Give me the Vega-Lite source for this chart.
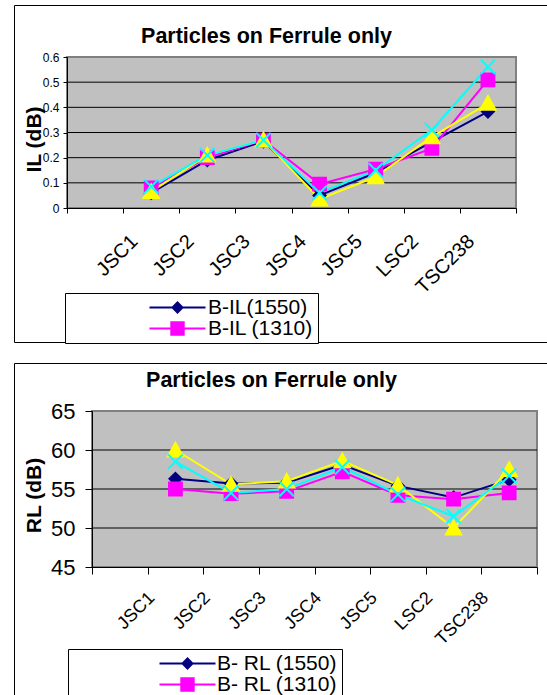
{
  "$schema": "https://vega.github.io/schema/vega-lite/v6.json",
  "background": "white",
  "padding": {"left": 6, "top": 4, "right": 0, "bottom": 0},
  "spacing": 21,
  "bounds": "flush",
  "datasets": {
    "il": [
      {"cat": "JSC1", "series": "B-IL(1550)", "v": 0.06},
      {"cat": "JSC2", "series": "B-IL(1550)", "v": 0.19},
      {"cat": "JSC3", "series": "B-IL(1550)", "v": 0.265},
      {"cat": "JSC4", "series": "B-IL(1550)", "v": 0.05},
      {"cat": "JSC5", "series": "B-IL(1550)", "v": 0.14},
      {"cat": "LSC2", "series": "B-IL(1550)", "v": 0.263},
      {"cat": "TSC238", "series": "B-IL(1550)", "v": 0.383},
      {"cat": "JSC1", "series": "B-IL (1310)", "v": 0.08},
      {"cat": "JSC2", "series": "B-IL (1310)", "v": 0.2},
      {"cat": "JSC3", "series": "B-IL (1310)", "v": 0.27},
      {"cat": "JSC4", "series": "B-IL (1310)", "v": 0.095},
      {"cat": "JSC5", "series": "B-IL (1310)", "v": 0.154},
      {"cat": "LSC2", "series": "B-IL (1310)", "v": 0.237},
      {"cat": "TSC238", "series": "B-IL (1310)", "v": 0.509},
      {"cat": "JSC1", "series": "A-IL(1550)", "v": 0.065},
      {"cat": "JSC2", "series": "A-IL(1550)", "v": 0.21},
      {"cat": "JSC3", "series": "A-IL(1550)", "v": 0.27},
      {"cat": "JSC4", "series": "A-IL(1550)", "v": 0.035},
      {"cat": "JSC5", "series": "A-IL(1550)", "v": 0.124},
      {"cat": "LSC2", "series": "A-IL(1550)", "v": 0.283},
      {"cat": "TSC238", "series": "A-IL(1550)", "v": 0.416},
      {"cat": "JSC1", "series": "A-IL(1310)", "v": 0.085},
      {"cat": "JSC2", "series": "A-IL(1310)", "v": 0.21},
      {"cat": "JSC3", "series": "A-IL(1310)", "v": 0.27},
      {"cat": "JSC4", "series": "A-IL(1310)", "v": 0.06},
      {"cat": "JSC5", "series": "A-IL(1310)", "v": 0.15},
      {"cat": "LSC2", "series": "A-IL(1310)", "v": 0.31},
      {"cat": "TSC238", "series": "A-IL(1310)", "v": 0.561}
    ],
    "rl": [
      {"cat": "JSC1", "series": "B- RL (1550)", "v": 56.3},
      {"cat": "JSC2", "series": "B- RL (1550)", "v": 55.7},
      {"cat": "JSC3", "series": "B- RL (1550)", "v": 55.8},
      {"cat": "JSC4", "series": "B- RL (1550)", "v": 58.1},
      {"cat": "JSC5", "series": "B- RL (1550)", "v": 55.4},
      {"cat": "LSC2", "series": "B- RL (1550)", "v": 53.9},
      {"cat": "TSC238", "series": "B- RL (1550)", "v": 56.2},
      {"cat": "JSC1", "series": "B- RL (1310)", "v": 55.0},
      {"cat": "JSC2", "series": "B- RL (1310)", "v": 54.4},
      {"cat": "JSC3", "series": "B- RL (1310)", "v": 54.7},
      {"cat": "JSC4", "series": "B- RL (1310)", "v": 57.2},
      {"cat": "JSC5", "series": "B- RL (1310)", "v": 54.2},
      {"cat": "LSC2", "series": "B- RL (1310)", "v": 53.7},
      {"cat": "TSC238", "series": "B- RL (1310)", "v": 54.5},
      {"cat": "JSC1", "series": "A- RL (1550)", "v": 60.0},
      {"cat": "JSC2", "series": "A- RL (1550)", "v": 55.6},
      {"cat": "JSC3", "series": "A- RL (1550)", "v": 56.0},
      {"cat": "JSC4", "series": "A- RL (1550)", "v": 58.6},
      {"cat": "JSC5", "series": "A- RL (1550)", "v": 55.5},
      {"cat": "LSC2", "series": "A- RL (1550)", "v": 50.0},
      {"cat": "TSC238", "series": "A- RL (1550)", "v": 57.5},
      {"cat": "JSC1", "series": "A- RL (1310)", "v": 58.5},
      {"cat": "JSC2", "series": "A- RL (1310)", "v": 54.5},
      {"cat": "JSC3", "series": "A- RL (1310)", "v": 55.0},
      {"cat": "JSC4", "series": "A- RL (1310)", "v": 57.8},
      {"cat": "JSC5", "series": "A- RL (1310)", "v": 54.3},
      {"cat": "LSC2", "series": "A- RL (1310)", "v": 51.5},
      {"cat": "TSC238", "series": "A- RL (1310)", "v": 56.7}
    ]
  },
  "resolve": {
    "scale": {"x": "independent", "y": "independent", "color": "independent"},
    "legend": {"color": "independent"}
  },
  "vconcat": [
    {
      "width": 545,
      "height": 337,
      "data": {"name": "il"},
      "title": {"text": "Particles on Ferrule only", "fontSize": 21.5, "fontWeight": "bold", "anchor": "middle", "frame": "group", "offset": 0, "baseline": "alphabetic", "dy": 59, "dx": -20, "color": "black"},
      "layer": [
        {
          "data": {"values": [{}]},
          "mark": {"type": "rect", "fill": "#C0C0C0", "stroke": "#808080", "strokeWidth": 2},
          "encoding": {
            "x": {"datum": " ", "type": "nominal", "bandPosition": 0},
            "x2": {"datum": "TSC238", "bandPosition": 1},
            "y": {"datum": 0, "type": "quantitative"},
            "y2": {"datum": 0.6}
          }
        },
        {"data": {"values": [{}]}, "mark": {"type": "rule", "color": "black", "strokeWidth": 1},
         "encoding": {"x": {"datum": " ", "type": "nominal", "bandPosition": 0}, "x2": {"datum": "TSC238", "bandPosition": 1}, "y": {"datum": 0.1, "type": "quantitative"}}},
        {"data": {"values": [{}]}, "mark": {"type": "rule", "color": "black", "strokeWidth": 1},
         "encoding": {"x": {"datum": " ", "type": "nominal", "bandPosition": 0}, "x2": {"datum": "TSC238", "bandPosition": 1}, "y": {"datum": 0.2, "type": "quantitative"}}},
        {"data": {"values": [{}]}, "mark": {"type": "rule", "color": "black", "strokeWidth": 1},
         "encoding": {"x": {"datum": " ", "type": "nominal", "bandPosition": 0}, "x2": {"datum": "TSC238", "bandPosition": 1}, "y": {"datum": 0.3, "type": "quantitative"}}},
        {"data": {"values": [{}]}, "mark": {"type": "rule", "color": "black", "strokeWidth": 1},
         "encoding": {"x": {"datum": " ", "type": "nominal", "bandPosition": 0}, "x2": {"datum": "TSC238", "bandPosition": 1}, "y": {"datum": 0.4, "type": "quantitative"}}},
        {"data": {"values": [{}]}, "mark": {"type": "rule", "color": "black", "strokeWidth": 1},
         "encoding": {"x": {"datum": " ", "type": "nominal", "bandPosition": 0}, "x2": {"datum": "TSC238", "bandPosition": 1}, "y": {"datum": 0.5, "type": "quantitative"}}},
        {
          "mark": {"type": "line", "strokeWidth": 2},
          "encoding": {
            "x": {"field": "cat", "type": "nominal",
                  "scale": {"type": "band", "domain": [" ", "JSC1", "JSC2", "JSC3", "JSC4", "JSC5", "LSC2", "TSC238"], "range": [53, 502], "paddingInner": 0, "paddingOuter": 0},
                  "axis": {"orient": "bottom", "offset": -134, "tickBand": "extent", "tickSize": 5, "labelAngle": -45, "labelFontSize": 20, "labelPadding": 25, "labelOffset": -17, "title": null, "grid": false, "zindex": 1}},
            "y": {"field": "v", "type": "quantitative",
                  "scale": {"domain": [0, 0.6], "range": [203, 52], "nice": false, "zero": false},
                  "axis": {"orient": "left", "offset": -53, "values": [0, 0.1, 0.2, 0.3, 0.4, 0.5, 0.6], "format": ".1~f", "tickSize": 4, "labelPadding": 4, "labelFontSize": 12, "title": "IL (dB)", "titleFontSize": 21, "titleFontWeight": "bold", "titlePadding": -2, "titleY": 134, "grid": false, "zindex": 1}},
            "color": {"field": "series", "type": "nominal",
                      "scale": {"domain": ["B-IL(1550)", "B-IL (1310)", "A-IL(1550)", "A-IL(1310)"], "range": ["#000080", "#FF00FF", "#FFFF00", "#00FFFF"]},
                      "legend": {
                        "values": ["B-IL(1550)", "B-IL (1310)"],
                        "orient": "none", "legendX": 51, "legendY": 288, "title": null,
                        "padding": 4, "strokeColor": "black", "fillColor": "white",
                        "labelFontSize": 21, "labelColor": "black",
                        "symbolOffset": 98, "labelOffset": 20, "symbolSize": 256, "rowPadding": -2,
                        "encode": {"symbols": {"update": {
                          "shape": {"signal": "['M-3.5,-0.125L3.5,-0.125L3.5,0.125L-3.5,0.125ZM0,-0.8L0.8,0L0,0.8L-0.8,0Z','M-3.5,-0.125L3.5,-0.125L3.5,0.125L-3.5,0.125ZM-0.9,-0.9L0.9,-0.9L0.9,0.9L-0.9,0.9Z','M-3.5,-0.125L3.5,-0.125L3.5,0.125L-3.5,0.125ZM0,-1L1,0.85L-1,0.85Z','M-3.5,-0.125L3.5,-0.125L3.5,0.125L-3.5,0.125ZM-1,-0.8L-0.8,-1L0,-0.2L0.8,-1L1,-0.8L0.2,0L1,0.8L0.8,1L0,0.2L-0.8,1L-1,0.8L-0.2,0Z'][indexof(['B-IL(1550)','B-IL (1310)','A-IL(1550)','A-IL(1310)'], datum.value)]"},
                          "fill": {"signal": "['#000080','#FF00FF','#FFFF00','#00FFFF'][indexof(['B-IL(1550)','B-IL (1310)','A-IL(1550)','A-IL(1310)'], datum.value)]"},
                          "strokeWidth": {"value": 0},
                          "size": {"value": 256},
                          "opacity": {"value": 1},
                          "fillOpacity": {"value": 1}
                        }}}
                      }}
          }
        },
        {
          "transform": [{"filter": "datum.series === 'B-IL(1550)'"}],
          "mark": {"type": "point", "shape": "M0,-0.75L0.75,0L0,0.75L-0.75,0Z", "filled": true, "fill": "#000080", "stroke": "#000080", "size": 256, "strokeWidth": 2, "opacity": 1},
          "encoding": {"x": {"field": "cat", "type": "nominal"}, "y": {"field": "v", "type": "quantitative"}}
        },
        {
          "transform": [{"filter": "datum.series === 'B-IL (1310)'"}],
          "mark": {"type": "point", "shape": "M-0.8,-0.8L0.8,-0.8L0.8,0.8L-0.8,0.8Z", "filled": true, "fill": "#FF00FF", "stroke": "#FF00FF", "size": 256, "strokeWidth": 2, "opacity": 1},
          "encoding": {"x": {"field": "cat", "type": "nominal"}, "y": {"field": "v", "type": "quantitative"}}
        },
        {
          "transform": [{"filter": "datum.series === 'A-IL(1550)'"}],
          "mark": {"type": "point", "shape": "M0,-0.9L0.95,0.8L-0.95,0.8Z", "filled": true, "fill": "#FFFF00", "stroke": "#FFFF00", "size": 256, "strokeWidth": 2, "opacity": 1},
          "encoding": {"x": {"field": "cat", "type": "nominal"}, "y": {"field": "v", "type": "quantitative"}}
        },
        {
          "transform": [{"filter": "datum.series === 'A-IL(1310)'"}],
          "mark": {"type": "point", "shape": "M-0.9,-0.9L0.9,0.9M-0.9,0.9L0.9,-0.9", "filled": true, "fill": "#00FFFF", "stroke": "#00FFFF", "size": 256, "strokeWidth": 2, "opacity": 1},
          "encoding": {"x": {"field": "cat", "type": "nominal"}, "y": {"field": "v", "type": "quantitative"}}
        }
      ]
    },
    {
      "width": 545,
      "height": 340,
      "data": {"name": "rl"},
      "title": {"text": "Particles on Ferrule only", "fontSize": 21.5, "fontWeight": "bold", "anchor": "middle", "frame": "group", "offset": 0, "baseline": "alphabetic", "dy": 45, "dx": -15, "color": "black"},
      "layer": [
        {
          "data": {"values": [{}]},
          "mark": {"type": "rect", "fill": "#C0C0C0", "stroke": "#808080", "strokeWidth": 2},
          "encoding": {
            "x": {"datum": " ", "type": "nominal", "bandPosition": 0},
            "x2": {"datum": "TSC238", "bandPosition": 1},
            "y": {"datum": 45, "type": "quantitative"},
            "y2": {"datum": 65}
          }
        },
        {"data": {"values": [{}]}, "mark": {"type": "rule", "color": "black", "strokeWidth": 1},
         "encoding": {"x": {"datum": " ", "type": "nominal", "bandPosition": 0}, "x2": {"datum": "TSC238", "bandPosition": 1}, "y": {"datum": 50, "type": "quantitative"}}},
        {"data": {"values": [{}]}, "mark": {"type": "rule", "color": "black", "strokeWidth": 1},
         "encoding": {"x": {"datum": " ", "type": "nominal", "bandPosition": 0}, "x2": {"datum": "TSC238", "bandPosition": 1}, "y": {"datum": 55, "type": "quantitative"}}},
        {"data": {"values": [{}]}, "mark": {"type": "rule", "color": "black", "strokeWidth": 1},
         "encoding": {"x": {"datum": " ", "type": "nominal", "bandPosition": 0}, "x2": {"datum": "TSC238", "bandPosition": 1}, "y": {"datum": 60, "type": "quantitative"}}},
        {
          "mark": {"type": "line", "strokeWidth": 2},
          "encoding": {
            "x": {"field": "cat", "type": "nominal",
                  "scale": {"type": "band", "domain": [" ", "JSC1", "JSC2", "JSC3", "JSC4", "JSC5", "LSC2", "TSC238"], "range": [78, 523], "paddingInner": 0, "paddingOuter": 0},
                  "axis": {"orient": "bottom", "offset": -136, "tickBand": "extent", "tickSize": 7, "labelAngle": -45, "labelFontSize": 18, "labelPadding": 21, "labelOffset": -24, "title": null, "grid": false, "zindex": 1}},
            "y": {"field": "v", "type": "quantitative",
                  "scale": {"domain": [45, 65], "range": [204, 48], "nice": false, "zero": false},
                  "axis": {"orient": "left", "offset": -78, "values": [45, 50, 55, 60, 65], "tickSize": 7, "labelPadding": 10, "labelFontSize": 22, "title": "RL (dB)", "titleFontSize": 21, "titleFontWeight": "bold", "titlePadding": 6, "titleY": 132, "grid": false, "zindex": 1}},
            "color": {"field": "series", "type": "nominal",
                      "scale": {"domain": ["B- RL (1550)", "B- RL (1310)", "A- RL (1550)", "A- RL (1310)"], "range": ["#000080", "#FF00FF", "#FFFF00", "#00FFFF"]},
                      "legend": {
                        "orient": "none", "legendX": 54, "legendY": 286, "title": null,
                        "padding": 4, "strokeColor": "black", "fillColor": "white",
                        "labelFontSize": 21, "labelColor": "black",
                        "symbolOffset": 105, "labelOffset": 19, "symbolSize": 256, "rowPadding": -2,
                        "encode": {"symbols": {"update": {
                          "shape": {"signal": "['M-3.5,-0.125L3.5,-0.125L3.5,0.125L-3.5,0.125ZM0,-0.8L0.8,0L0,0.8L-0.8,0Z','M-3.5,-0.125L3.5,-0.125L3.5,0.125L-3.5,0.125ZM-0.9,-0.9L0.9,-0.9L0.9,0.9L-0.9,0.9Z','M-3.5,-0.125L3.5,-0.125L3.5,0.125L-3.5,0.125ZM0,-1L1,0.85L-1,0.85Z','M-3.5,-0.125L3.5,-0.125L3.5,0.125L-3.5,0.125ZM-1,-0.8L-0.8,-1L0,-0.2L0.8,-1L1,-0.8L0.2,0L1,0.8L0.8,1L0,0.2L-0.8,1L-1,0.8L-0.2,0Z'][indexof(['B- RL (1550)','B- RL (1310)','A- RL (1550)','A- RL (1310)'], datum.value)]"},
                          "fill": {"signal": "['#000080','#FF00FF','#FFFF00','#00FFFF'][indexof(['B- RL (1550)','B- RL (1310)','A- RL (1550)','A- RL (1310)'], datum.value)]"},
                          "strokeWidth": {"value": 0},
                          "size": {"value": 256},
                          "opacity": {"value": 1},
                          "fillOpacity": {"value": 1}
                        }}}
                      }}
          }
        },
        {
          "transform": [{"filter": "datum.series === 'B- RL (1550)'"}],
          "mark": {"type": "point", "shape": "M0,-0.75L0.75,0L0,0.75L-0.75,0Z", "filled": true, "fill": "#000080", "stroke": "#000080", "size": 256, "strokeWidth": 2, "opacity": 1},
          "encoding": {"x": {"field": "cat", "type": "nominal"}, "y": {"field": "v", "type": "quantitative"}}
        },
        {
          "transform": [{"filter": "datum.series === 'B- RL (1310)'"}],
          "mark": {"type": "point", "shape": "M-0.8,-0.8L0.8,-0.8L0.8,0.8L-0.8,0.8Z", "filled": true, "fill": "#FF00FF", "stroke": "#FF00FF", "size": 256, "strokeWidth": 2, "opacity": 1},
          "encoding": {"x": {"field": "cat", "type": "nominal"}, "y": {"field": "v", "type": "quantitative"}}
        },
        {
          "transform": [{"filter": "datum.series === 'A- RL (1550)'"}],
          "mark": {"type": "point", "shape": "M0,-0.9L0.95,0.8L-0.95,0.8Z", "filled": true, "fill": "#FFFF00", "stroke": "#FFFF00", "size": 256, "strokeWidth": 2, "opacity": 1},
          "encoding": {"x": {"field": "cat", "type": "nominal"}, "y": {"field": "v", "type": "quantitative"}}
        },
        {
          "transform": [{"filter": "datum.series === 'A- RL (1310)'"}],
          "mark": {"type": "point", "shape": "M-0.9,-0.9L0.9,0.9M-0.9,0.9L0.9,-0.9", "filled": true, "fill": "#00FFFF", "stroke": "#00FFFF", "size": 256, "strokeWidth": 2, "opacity": 1},
          "encoding": {"x": {"field": "cat", "type": "nominal"}, "y": {"field": "v", "type": "quantitative"}}
        }
      ]
    }
  ],
  "config": {
    "font": "Liberation Sans",
    "view": {"fill": "white", "stroke": "black", "strokeWidth": 1},
    "axis": {"labelColor": "black", "titleColor": "black", "domainColor": "black", "tickColor": "black", "domainWidth": 1, "tickWidth": 1, "labelFont": "Liberation Sans", "titleFont": "Liberation Sans"},
    "legend": {"labelFont": "Liberation Sans"},
    "title": {"font": "Liberation Sans"}
  }
}
